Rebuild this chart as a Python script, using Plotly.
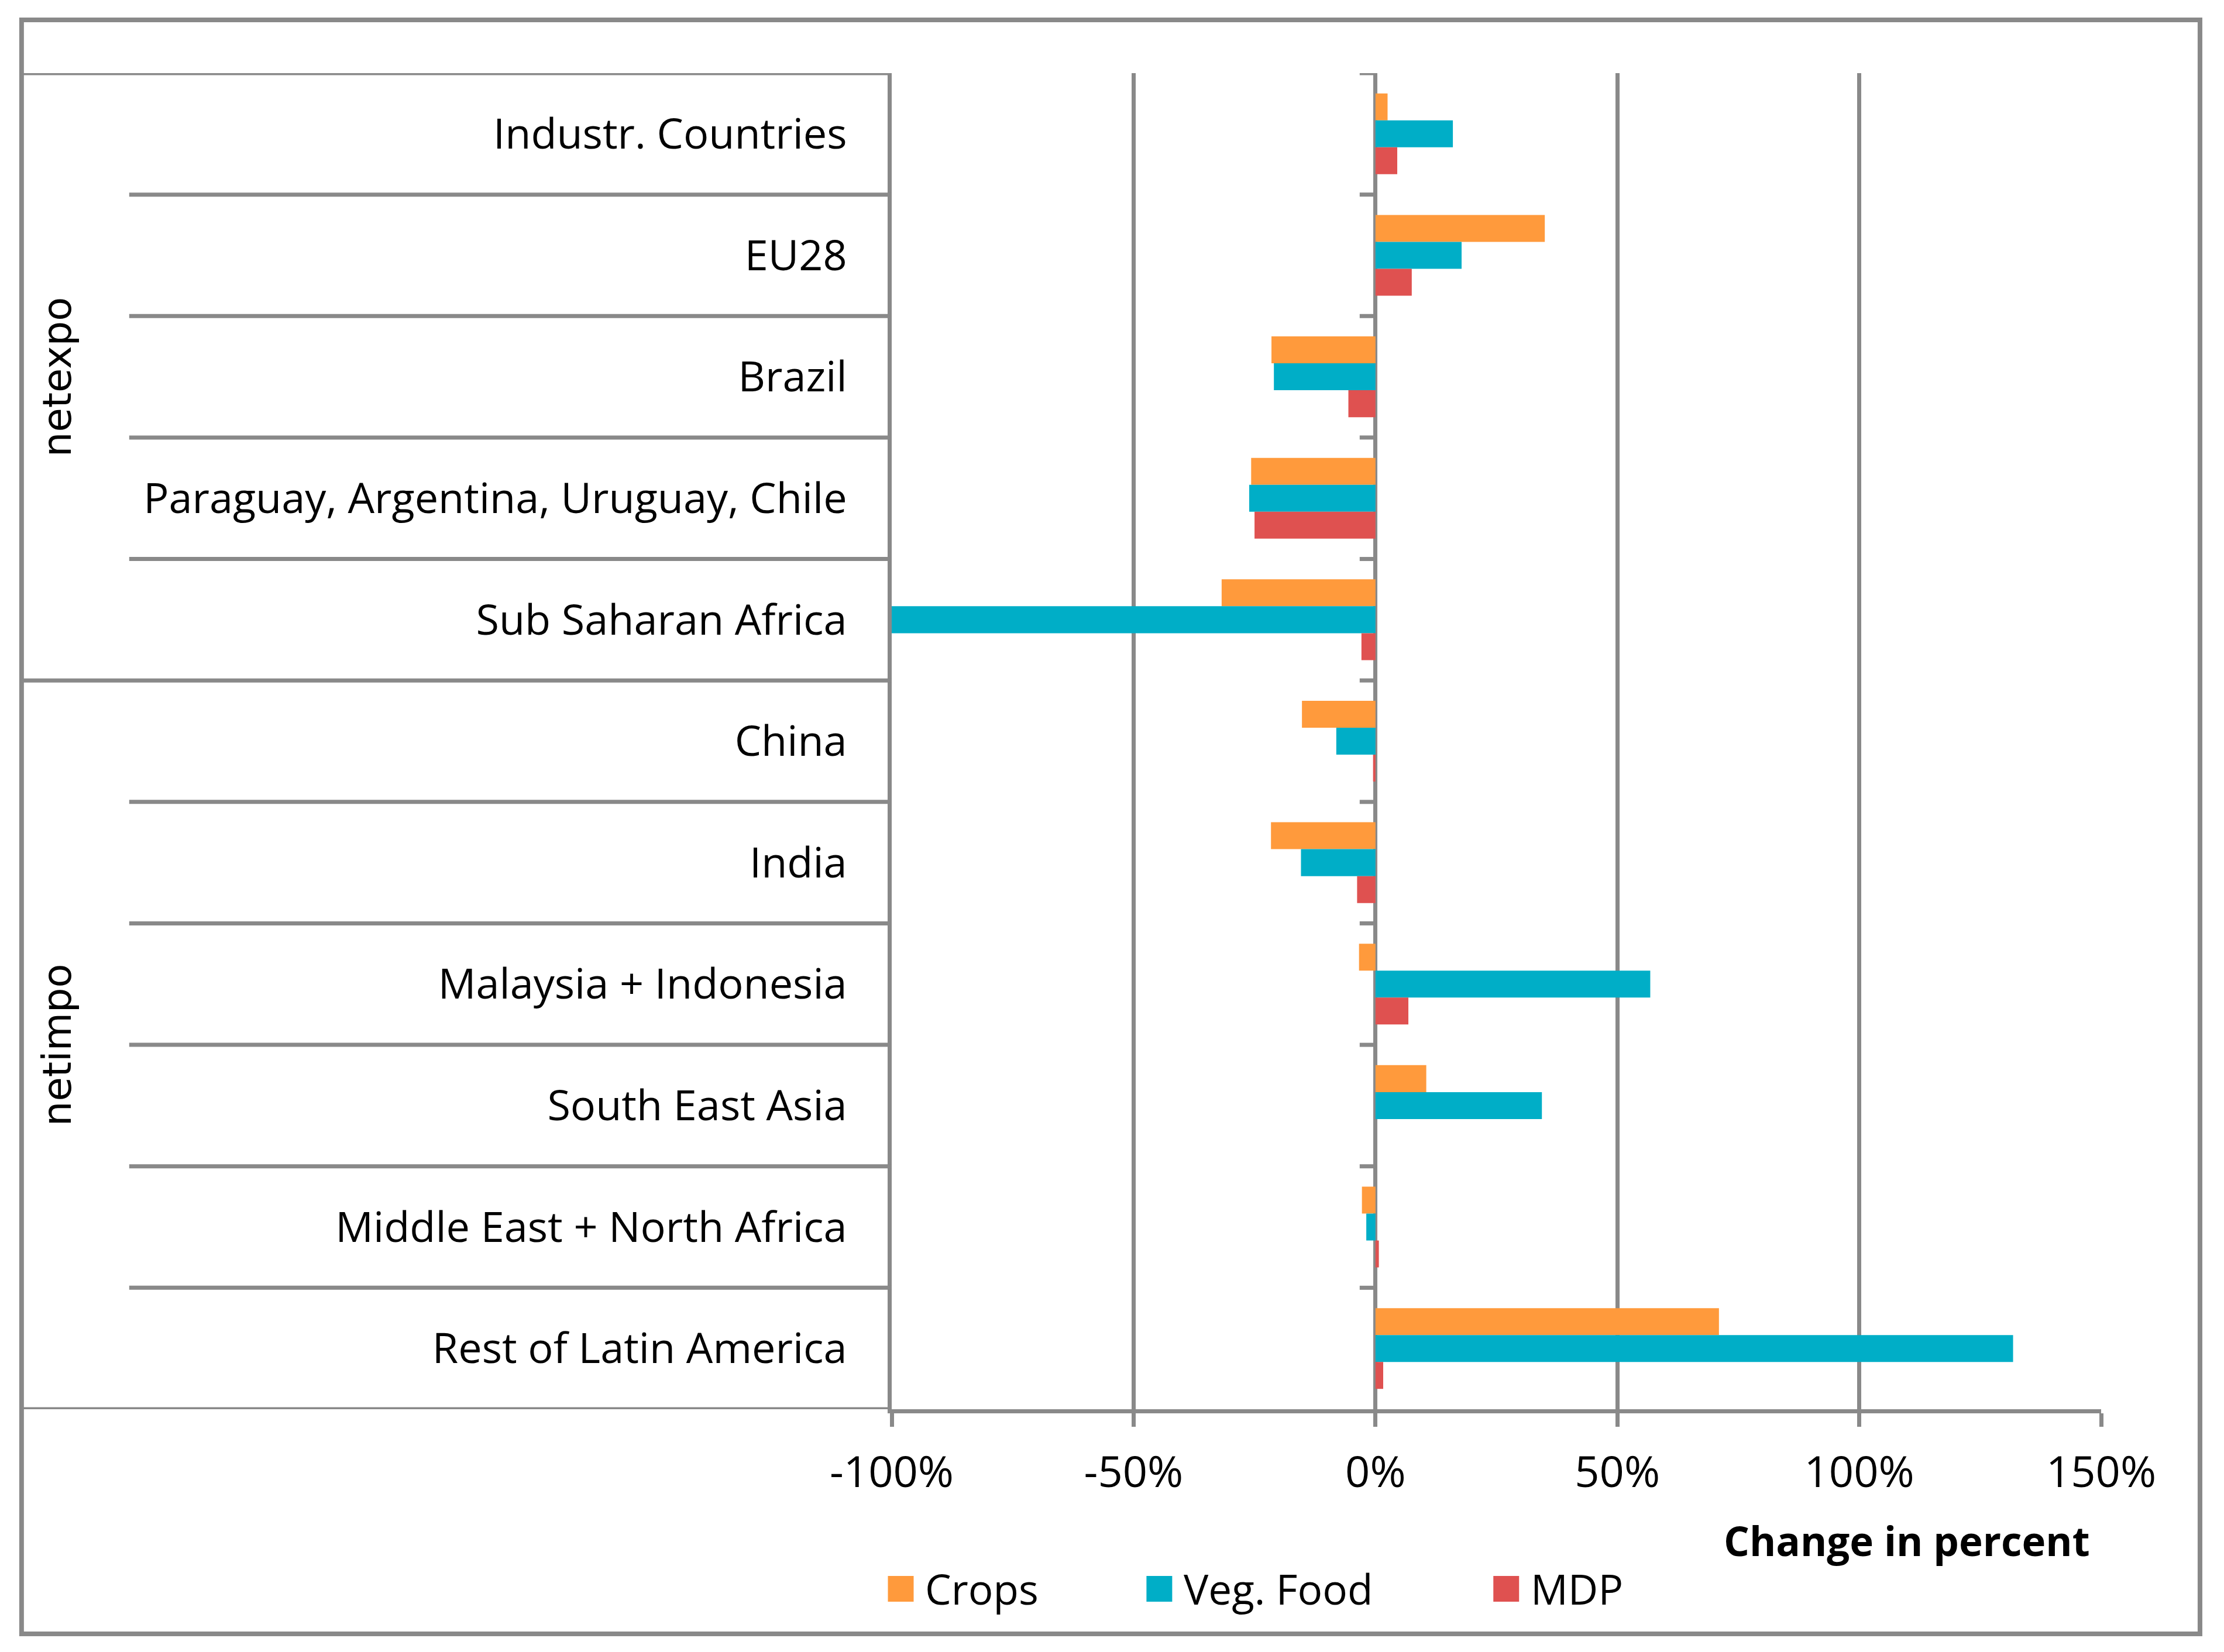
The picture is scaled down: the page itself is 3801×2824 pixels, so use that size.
import plotly.graph_objects as go

# ---------------- data ----------------
categories = ["Industr. Countries", "EU28", "Brazil",
              "Paraguay, Argentina, Uruguay, Chile", "Sub Saharan Africa",
              "China", "India", "Malaysia + Indonesia", "South East Asia",
              "Middle East + North Africa", "Rest of Latin America"]
groups = ["netexpo"] * 5 + ["netimpo"] * 6
series_names = ["Crops", "Veg. Food", "MDP"]
crops = [2.5, 35.0, -21.5, -25.7, -31.8, -15.2, -21.6, -3.4, 10.5, -2.8, 71.0]
veg_food = [16.0, 17.8, -21.0, -26.1, -100.0, -8.1, -15.4, 56.8, 34.4, -1.9, 131.8]
mdp = [4.5, 7.5, -5.6, -25.0, -2.9, -0.5, -3.8, 6.8, 0.0, 0.7, 1.6]
x_tick_vals = [-100, -50, 0, 50, 100, 150]
x_tick_text = ["-100%", "-50%", "0%", "50%", "100%", "150%"]
x_title = "Change in percent"

# ---------------- style ----------------
colors = ["#FF9A3C", "#00AEC7", "#DF5150"]
GRAY = "#898989"
OFF = 8                                   # default page margin of the html body
W, H = 3801 - 2 * OFF, 2824 - 2 * OFF
# plot-area edges, in page pixels
L, R, T, B = 1523.5, 3591, 124.5, 2409
FONT = "Open Sans"
LW = 7


def px(x):
    return (x - L) / (R - L)


def py(y):
    return (B - y) / (B - T)


fig = go.Figure()
for name, vals, col in zip(series_names, [crops, veg_food, mdp], colors):
    fig.add_trace(go.Bar(y=categories, x=vals, orientation="h", name=name,
                         marker=dict(color=col, line=dict(width=0)),
                         showlegend=False))

shapes = []
n = len(categories)
# outer border
shapes.append(dict(type="rect", xref="paper", yref="paper",
                   x0=px(36), x1=px(3760), y0=py(2793), y1=py(33.5),
                   line=dict(color=GRAY, width=8), layer="below"))
# category boundaries in the label area
for i in range(n + 1):
    b = i - 0.5
    is_group_edge = (i == 0 or i == n or groups[i - 1] != groups[i])
    x0 = px(36) if is_group_edge else px(220)
    shapes.append(dict(type="line", xref="paper", yref="y",
                       x0=x0, x1=0, y0=b, y1=b,
                       line=dict(color=GRAY, width=LW)))
    if i < n:
        # tick marks on the 0% category axis
        shapes.append(dict(type="line", xref="x", yref="y", xsizemode="pixel",
                           xanchor=0, x0=-27, x1=0, y0=b, y1=b,
                           line=dict(color=GRAY, width=LW)))

annotations = []
# group labels
seen = []
for g in groups:
    if g not in seen:
        seen.append(g)
for g in seen:
    idx = [i for i, gg in enumerate(groups) if gg == g]
    annotations.append(dict(text=g, xref="paper", yref="y", x=px(97),
                            y=(idx[0] + idx[-1]) / 2, textangle=-90,
                            showarrow=False, xanchor="center", yanchor="middle",
                            font=dict(family="DejaVu Sans", size=67, color="black")))
# axis title
annotations.append(dict(text="<b>" + x_title + "</b>", xref="paper", yref="paper",
                        x=px(3574), y=py(2633), xanchor="right", yanchor="middle",
                        showarrow=False,
                        font=dict(family=FONT, size=69, color="black")))
# legend (drawn by hand so the swatches can match the reference size)
legend_sw = [1517, 1959, 2552]
for name, col, sx in zip(series_names, colors, legend_sw):
    shapes.append(dict(type="rect", xref="paper", yref="paper",
                       x0=px(sx), x1=px(sx + 44), y0=py(2738), y1=py(2694),
                       fillcolor=col, line=dict(width=0)))
    annotations.append(dict(text=name, xref="paper", yref="paper",
                            x=px(sx + 62), y=py(2716), xanchor="left",
                            yanchor="middle", showarrow=False,
                            font=dict(family=FONT, size=71, color="black")))

fig.update_layout(
    width=W, height=H,
    margin=dict(l=L - OFF, r=W - (R - OFF), t=T - OFF, b=H - (B - OFF), pad=0),
    paper_bgcolor="white", plot_bgcolor="white",
    barmode="group", bargap=0.335, bargroupgap=0,
    font=dict(family=FONT, size=72, color="black"),
    shapes=shapes, annotations=annotations,
    showlegend=False,
)
fig.update_xaxes(range=[-100, 150], tickvals=x_tick_vals, ticktext=x_tick_text,
                 showgrid=True, gridcolor=GRAY, gridwidth=LW,
                 zeroline=True, zerolinecolor=GRAY, zerolinewidth=LW,
                 showline=True, linecolor=GRAY, linewidth=LW,
                 ticks="outside", ticklen=23, tickwidth=LW, tickcolor=GRAY,
                 tickfont=dict(family=FONT, size=74, color="black"),
                 ticklabelstandoff=14)
fig.update_yaxes(type="category", categoryorder="array", categoryarray=categories,
                 range=[n - 0.5, -0.5],
                 showline=True, linecolor=GRAY, linewidth=LW, ticks="",
                 showgrid=False, zeroline=False,
                 tickfont=dict(family=FONT, size=72, color="black"),
                 ticklabelstandoff=55)

fig.write_html("out.html")
